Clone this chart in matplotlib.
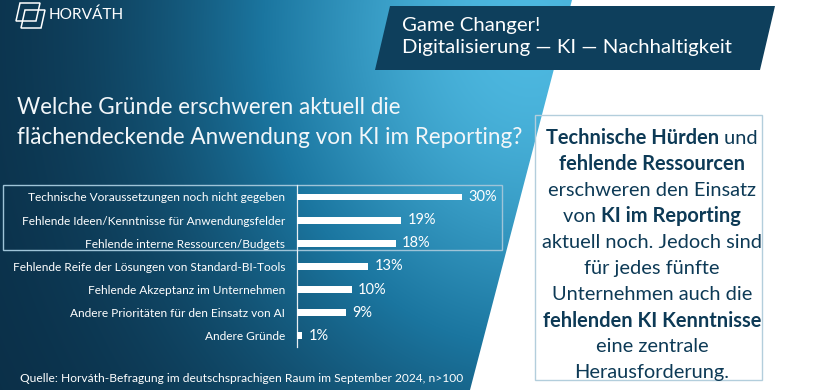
import numpy as np
import matplotlib
matplotlib.use("Agg")
import matplotlib.pyplot as plt
from matplotlib.patches import Polygon, Rectangle
from matplotlib.offsetbox import TextArea, HPacker, AnnotationBbox

# ---------------- data ----------------
categories = [
    "Technische Voraussetzungen noch nicht gegeben",
    "Fehlende Ideen/Kenntnisse für Anwendungsfelder",
    "Fehlende interne Ressourcen/Budgets",
    "Fehlende Reife der Lösungen von Standard-BI-Tools",
    "Fehlende Akzeptanz im Unternehmen",
    "Andere Prioritäten für den Einsatz von AI",
    "Andere Gründe",
]
values = [30, 19, 18, 13, 10, 9, 1]
value_labels = [f"{v}%" for v in values]

title_lines = ["Welche Gründe erschweren aktuell die",
               "flächendeckende Anwendung von KI im Reporting?"]
banner_lines = ["Game Changer!", "Digitalisierung — KI — Nachhaltigkeit"]
source_text = "Quelle: Horváth-Befragung im deutschsprachigen Raum im September 2024, n>100"
logo_text = "HORVÁTH"
# right panel text: list of lines, each a list of (text, bold)
right_lines = [
    [("Technische Hürden", True), (" und", False)],
    [("fehlende Ressourcen", True)],
    [("erschweren den Einsatz", False)],
    [("von ", False), ("KI im Reporting", True)],
    [("aktuell noch. Jedoch sind", False)],
    [("für jedes fünfte", False)],
    [("Unternehmen auch die", False)],
    [("fehlenden KI Kenntnisse", True)],
    [("eine zentrale", False)],
    [("Herausforderung.", False)],
]

FONT = ["Lato", "DejaVu Sans"]
plt.rcParams["font.family"] = FONT
W, H = 820, 390
NAVY = "#0d3a56"

fig = plt.figure(figsize=(W / 100, H / 100), dpi=100)
fig.patch.set_facecolor("white")
renderer = fig.canvas.get_renderer()

# background axes in pixel coordinates (top-left origin)
bg = fig.add_axes([0, 0, 1, 1], zorder=0)
bg.set_xlim(0, W)
bg.set_ylim(H, 0)
bg.axis("off")

# gradient panel
yy, xx = np.mgrid[0:H, 0:W]
t = np.exp(-(((xx - 530) / 320.0) ** 2 + ((yy - 30) / 380.0) ** 2))
dark = np.array([0x0a, 0x2c, 0x44]) / 255
mid = np.array([0x1b, 0x76, 0xa0]) / 255
light = np.array([0x4d, 0xb8, 0xe0]) / 255
t3 = t[..., None]
img = np.where(t3 < 0.5,
               dark + (mid - dark) * (t3 / 0.5),
               mid + (light - mid) * ((t3 - 0.5) / 0.5))
im = bg.imshow(img, extent=(0, W, H, 0), aspect="auto", zorder=0)
panel = Polygon([(0, 0), (572, 0), (470, H), (0, H)], closed=True,
                facecolor="none", edgecolor="none", transform=bg.transData)
bg.add_patch(panel)
im.set_clip_path(panel)

# banner
bg.add_patch(Polygon([(390, 6), (775, 6), (760, 70), (375, 70)], closed=True,
                     facecolor="#0e3f5c", edgecolor="none", zorder=2))

# logo icon
for dx, dy in [(0, 0), (5, 7)]:
    bg.add_patch(Polygon([(20 + dx, 3 + dy), (40 + dx, 3 + dy),
                          (36 + dx, 21 + dy), (16 + dx, 21 + dy)], closed=True,
                         facecolor="none", edgecolor="white", lw=1.1, zorder=3))


def fit(txt, width_px):
    bb = txt.get_window_extent(renderer)
    txt.set_fontsize(txt.get_fontsize() * width_px / bb.width)
    return txt.get_fontsize()


t_logo = bg.text(49, 15, logo_text, color="white", fontsize=12,
                 va="center", ha="left", zorder=3)
fit(t_logo, 75)

# banner text
b1 = bg.text(402, 26, banner_lines[0], color="white", fontsize=14, va="center", ha="left", zorder=3)
b2 = bg.text(402, 48, banner_lines[1], color="white", fontsize=14, va="center", ha="left", zorder=3)
fs = fit(b2, 331)
b1.set_fontsize(fs)

# title
tt2 = bg.text(17, 137, title_lines[1], color="#f2f6f9", fontsize=18, va="center", ha="left", zorder=3)
fs = fit(tt2, 505)
tt1 = bg.text(17, 107, title_lines[0], color="#f2f6f9", fontsize=fs, va="center", ha="left", zorder=3)

# source
src = bg.text(20, 378, source_text, color="white", fontsize=9, va="center", ha="left", zorder=3)
fit(src, 443)

# highlight box
bg.add_patch(Rectangle((3, 185), 499, 65, facecolor="none", edgecolor="#9fc4d8", lw=1.0, zorder=3))

# right text box
bg.add_patch(Rectangle((535, 115), 227, 265, facecolor="none", edgecolor="#b3cedc", lw=1.0, zorder=3))
probe = bg.text(0, 0, "aktuell noch. Jedoch sind", fontsize=14)
rfs = fit(probe, 221)
probe.remove()
for i, parts in enumerate(right_lines):
    y = 138 + i * 26.1
    boxes = [TextArea(s, textprops=dict(fontsize=rfs, color=NAVY,
                                         fontweight="bold" if b else "normal",
                                         family=FONT))
             for s, b in parts]
    pack = HPacker(children=boxes, align="baseline", pad=0, sep=0)
    ab = AnnotationBbox(pack, (652, y), xycoords=bg.transData, frameon=False,
                        box_alignment=(0.5, 0.5), pad=0, zorder=4)
    bg.add_artist(ab)

# ---------------- bar chart ----------------
ax_top, ax_bot = 185.4, 347.4
ax = fig.add_axes([297 / W, (H - ax_bot) / H, 220 / W, (ax_bot - ax_top) / H], zorder=5)
ax.patch.set_alpha(0)
ypos = np.arange(len(categories))
bars = ax.barh(ypos, values, height=0.3, color="white", zorder=3)
ax.set_xlim(0, 40)
ax.set_ylim(len(categories) - 0.5, -0.5)
ax.set_yticks(ypos)
ax.set_yticklabels(categories, color="white", fontsize=9)
ax.tick_params(axis="y", length=0, pad=8.6)
ax.set_xticks([])
for s in ["top", "right", "bottom"]:
    ax.spines[s].set_visible(False)
ax.spines["left"].set_color("#e8eef2")
ax.spines["left"].set_linewidth(0.9)

# fit category label size so the longest label fits the reference span
widths = [lab.get_window_extent(renderer).width for lab in ax.get_yticklabels()]
cfs = 9 * 274 / max(widths)
for lab in ax.get_yticklabels():
    lab.set_fontsize(cfs)

vl = ax.bar_label(bars, labels=value_labels, padding=4.3, color="white", fontsize=cfs * 1.22)

fig.savefig("out.png", dpi=100)
